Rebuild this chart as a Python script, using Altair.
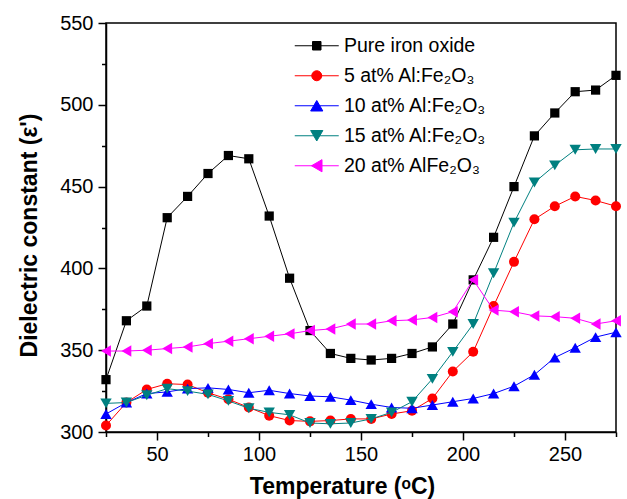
import altair as alt
import pandas as pd

temps = [25, 35, 45, 55, 65, 75, 85, 95, 105, 115, 125, 135, 145, 155, 165,
         175, 185, 195, 205, 215, 225, 235, 245, 255, 265, 275]

pure = [332, 368, 377, 431, 444, 458, 469, 467, 432, 394, 362, 348, 345,
        344, 345, 348, 352, 366, 393, 419, 450, 481, 495, 508, 509, 518]
al5 = [304, 318, 326, 329.5, 329, 324, 320, 315, 310, 307, 306.5, 307, 308,
       308, 311, 313, 320.5, 337, 349, 377, 404, 430, 438, 444, 441.5, 438]
al10 = [311, 318, 323.5, 324.5, 326.5, 327, 326, 324, 325.5, 323.5, 322, 321.5,
        319.5, 317, 315, 314.5, 316.5, 318.5, 320.5, 323.5, 328, 335, 345.5,
        351.5, 358, 361]
al15 = [317.5, 318, 322.5, 326.5, 325, 323, 319, 314.5, 312, 310.5, 305.5, 305,
        305.5, 308, 312, 318.5, 332.5, 349, 366, 397, 428, 452.5, 463, 472.5,
        473, 473]
al20 = [349.5, 349.5, 350, 351, 352, 354, 355.5, 357, 358.5, 360, 362, 363,
        366, 366, 368, 368.5, 370, 373.5, 393, 374.5, 373.5, 371, 370.5, 369.5,
        366, 368]

series_names = ["Pure iron oxide", "5 at% Al:Fe₂O₃", "10 at% Al:Fe₂O₃",
                "15 at% Al:Fe₂O₃", "20 at% AlFe₂O₃"]
series_values = [pure, al5, al10, al15, al20]
colors = ["#000000", "#FF0000", "#0000FF", "#008080", "#FF00FF"]
shapes = ["square", "circle", "triangle-up", "triangle-down", "triangle-left"]
sizes = [85, 100, 130, 130, 130]

# legend symbols: a short line with the marker on it
line_part = "M-4.4,0H4.4"
legend_shapes = [
    line_part + "M-0.85,-0.85H0.85V0.85H-0.85Z",
    line_part + "M-1.0,0A1.0,1.0 0 1,0 1.0,0A1.0,1.0 0 1,0 -1.0,0Z",
    line_part + "M0,-1.05L1.22,1.05L-1.22,1.05Z",
    line_part + "M-1.22,-1.05L1.22,-1.05L0,1.05Z",
    line_part + "M-1.05,0L1.05,-1.22L1.05,1.22Z",
]

rows = []
for name, vals in zip(series_names, series_values):
    for t, v in zip(temps, vals):
        rows.append({"T": t, "eps": v, "series": name})
df = pd.DataFrame(rows)

FONT = "Liberation Sans"

x_axis = alt.Axis(
    values=list(range(25, 276, 25)),
    labelExpr="datum.value % 50 === 0 ? datum.label : ''",
    tickSize={"condition": {"test": "datum.value % 50 === 0", "value": 8}, "value": 4.5},
    title="Temperature (ᵒC)",
    titleX=236, titleY=61, titleBaseline="alphabetic", titleAlign="center",
    labelPadding=4,
)
y_axis = alt.Axis(
    values=list(range(300, 551, 25)),
    labelExpr="datum.value % 50 === 0 ? datum.label : ''",
    tickSize={"condition": {"test": "datum.value % 50 === 0", "value": 8}, "value": 4.5},
    title="Dielectric constant (ε')",
    titleX=-70, titleY=212, titleBaseline="alphabetic", titleAlign="center",
    titleAngle=270,
    labelPadding=5,
)

xs = alt.Scale(domain=[25, 275], nice=False, zero=False)
ys = alt.Scale(domain=[300, 550], nice=False, zero=False)

base = alt.Chart(df)
layers = []
for i, name in enumerate(series_names):
    sub = base.transform_filter(alt.datum.series == name)
    enc = dict(x=alt.X("T:Q", scale=xs, axis=x_axis),
               y=alt.Y("eps:Q", scale=ys, axis=y_axis))
    layers.append(sub.mark_line(color=colors[i], strokeWidth=1).encode(**enc))
    layers.append(sub.mark_point(filled=True, shape=shapes[i], size=sizes[i],
                                 color=colors[i], opacity=1, strokeWidth=0).encode(**enc))

legend = alt.Legend(
    orient="none", legendX=201, legendY=13, title=None,
    labelFont=FONT, labelFontSize=19.5, labelColor="#000000",
    symbolSize=100, symbolStrokeWidth=1, symbolOpacity=1,
    labelOffset=17.5, rowPadding=9, padding=0,
)
leg_layer = base.transform_filter("false").mark_point(filled=True).encode(
    x=alt.X("T:Q", scale=xs, axis=x_axis),
    y=alt.Y("eps:Q", scale=ys, axis=y_axis),
    fill=alt.Fill("series:N", scale=alt.Scale(domain=series_names, range=colors), legend=legend),
    stroke=alt.Stroke("series:N", scale=alt.Scale(domain=series_names, range=colors), legend=legend),
    shape=alt.Shape("series:N", scale=alt.Scale(domain=series_names, range=legend_shapes), legend=legend),
)
layers.append(leg_layer)

chart = alt.layer(*layers).properties(
    width=510, height=409,
    autosize=alt.AutoSizeParams(type="none"),
    padding={"left": 106, "top": 23, "right": 11, "bottom": 67},
).configure_view(
    stroke="#000000", strokeWidth=1.5
).configure_axis(
    grid=False, domainColor="#000000", domainWidth=1.5,
    tickColor="#000000", tickWidth=1.5,
    labelFont=FONT, labelFontSize=20, labelColor="#000000",
    titleFont=FONT, titleFontSize=23, titleFontWeight="bold", titleColor="#000000",
    labelOverlap=False, labelFlush=False,
)

chart.save("out.html", embed_options={"renderer": "svg", "actions": False})
